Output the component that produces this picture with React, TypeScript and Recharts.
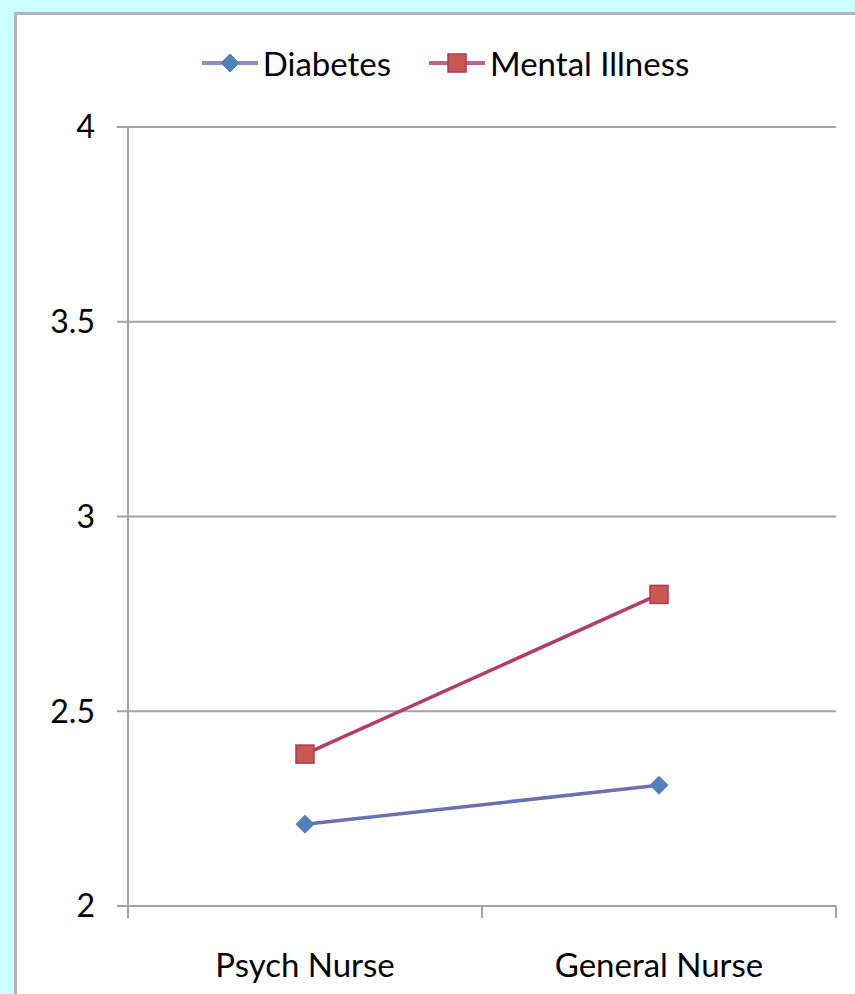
import { LineChart, Line, XAxis, YAxis, CartesianGrid, Legend } from "recharts";

const categories = ["Psych Nurse", "General Nurse"];
const diabetes = [2.21, 2.31];
const mentalIllness = [2.39, 2.8];
const yTicks = [2, 2.5, 3, 3.5, 4];
const xTicks = [0, 0.5, 1, 1.5, 2];

const FONT = "Lato, 'Open Sans', 'DejaVu Sans', sans-serif";
const GRID = "#a3a3a3";

const series = [
  { key: "diabetes", name: "Diabetes", line: "#6a72ad", legendLine: "#8b90c2", marker: "diamond", fill: "#4f81bd", edge: "#4f81bd" },
  { key: "mental", name: "Mental Illness", line: "#b23d68", legendLine: "#c0628a", marker: "square", fill: "#c9594f", edge: "#a8385f" },
];

const data = categories.map((name, i) => ({
  name,
  x: i + 0.5,
  diabetes: diabetes[i],
  mental: mentalIllness[i],
}));

function Marker({ cx, cy, kind, fill, edge }: any) {
  if (cx == null || cy == null) return null;
  if (kind === "diamond") {
    const r = 9;
    return (
      <polygon
        points={`${cx},${cy - r} ${cx + r},${cy} ${cx},${cy + r} ${cx - r},${cy}`}
        fill={fill}
        stroke={edge}
        strokeWidth={1}
      />
    );
  }
  const s = 18;
  return <rect x={cx - s / 2} y={cy - s / 2} width={s} height={s} fill={fill} stroke={edge} strokeWidth={1.5} />;
}

function LegendContent() {
  return (
    <div
      style={{
        height: 107,
        boxSizing: "border-box",
        paddingTop: 25,
        paddingLeft: 36,
        display: "flex",
        justifyContent: "center",
        fontFamily: FONT,
        fontSize: 33,
        color: "#000",
      }}
    >
      {series.map((s, i) => (
        <div key={s.key} style={{ display: "flex", alignItems: "center", height: 36, marginLeft: i ? 38 : 0 }}>
          <svg width={56} height={24} style={{ marginRight: 5 }}>
            <line x1={0} y1={12} x2={56} y2={12} stroke={s.legendLine} strokeWidth={4} />
            <Marker cx={28} cy={12} kind={s.marker} fill={s.fill} edge={s.edge} />
          </svg>
          <span>{s.name}</span>
        </div>
      ))}
    </div>
  );
}

function XTick({ x, y, payload }: any) {
  const v = payload.value;
  if (Number.isInteger(v)) {
    return <line x1={x} y1={y} x2={x} y2={y + 12} stroke={GRID} strokeWidth={2} />;
  }
  return (
    <text x={x} y={y + 71} textAnchor="middle" fontFamily={FONT} fontSize={33} fill="#000">
      {categories[Math.floor(v)]}
    </text>
  );
}

export default function App() {
  return (
    <div style={{ position: "absolute", left: 0, top: 0, width: 855, height: 994, background: "#ccffff", overflow: "hidden" }}>
      <div
        style={{
          position: "absolute",
          left: 14,
          top: 12,
          right: 0,
          bottom: 0,
          background: "#fff",
          borderLeft: "3px solid #b4b4b4",
          borderTop: "3px solid #b4b4b4",
        }}
      />
      <div style={{ position: "absolute", left: 0, top: 0 }}>
        <LineChart width={855} height={994} data={data} margin={{ top: 20, right: 19, bottom: 8, left: 28 }}>
          <CartesianGrid vertical={false} stroke={GRID} strokeWidth={2} />
          <Legend verticalAlign="top" content={<LegendContent />} wrapperStyle={{ left: 0, width: 855 }} />
          <XAxis
            dataKey="x"
            type="number"
            domain={[0, 2]}
            ticks={xTicks}
            interval={0}
            height={80}
            tickSize={0}
            tickMargin={0}
            tickLine={false}
            stroke={GRID}
            strokeWidth={2}
            tick={<XTick />}
          />
          <YAxis
            domain={[2, 4]}
            ticks={yTicks}
            interval={0}
            width={100}
            tickSize={11}
            tickMargin={22}
            stroke={GRID}
            strokeWidth={2}
            tick={{ fontFamily: FONT, fontSize: 32, fill: "#000" }}
          />
          {series.map((s) => (
            <Line
              key={s.key}
              dataKey={s.key}
              name={s.name}
              stroke={s.line}
              strokeWidth={3.5}
              isAnimationActive={false}
              dot={(p: any) => <Marker key={`${s.key}-${p.index}`} cx={p.cx} cy={p.cy} kind={s.marker} fill={s.fill} edge={s.edge} />}
              activeDot={false}
            />
          ))}
        </LineChart>
      </div>
    </div>
  );
}
